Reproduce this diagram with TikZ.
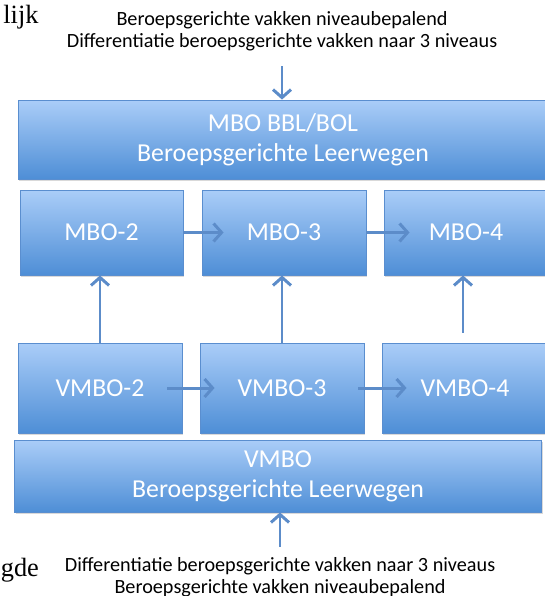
\documentclass[tikz,border=0pt]{standalone}
\usepackage{fontspec}
\setmainfont{Carlito}
\newfontfamily\fragfont{Liberation Serif}
\usetikzlibrary{arrows.meta,shadows,calc}

\definecolor{boxtop}{HTML}{AACDF8}
\definecolor{boxbot}{HTML}{4E8ED6}
\definecolor{boxedge}{HTML}{5A8ECF}
\definecolor{flowblue}{HTML}{5C8CC9}

\begin{document}
\begin{tikzpicture}[x=0.02cm, y=-0.02cm,
  box/.style={draw=boxedge, line width=0.5pt, top color=boxtop, bottom color=boxbot,
    text=white, align=center, inner sep=0pt, font=\fontsize{14.7}{17}\selectfont,
    drop shadow={opacity=0.3, shadow xshift=0.8pt, shadow yshift=-1.2pt}},
  flow/.style={draw=flowblue, line width=1.7pt, -{Straight Barb[length=1.6mm, width=3.6mm, line width=1.7pt]}},
  note/.style={align=center, inner sep=0pt, font=\fontsize{11.5}{12.6}\selectfont}]
\useasboundingbox (0,0) rectangle (545,596);

% cut-off words from the page
\node[anchor=base west, inner sep=0pt, font=\fragfont\fontsize{15}{18}\selectfont] (lijk) at (3,23) {lijk};
\node[anchor=base west, inner sep=0pt, font=\fragfont\fontsize{15}{18}\selectfont] (gde) at (0.5,576) {gde};

% top
\node[note] (toptext) at (282,31) {Beroepsgerichte vakken niveaubepalend\\Differentiatie beroepsgerichte vakken naar 3 niveaus};
\node[box, minimum width=530*0.02cm, minimum height=79*0.02cm] (mbo) at (283,139.5) {MBO BBL/BOL\\Beroepsgerichte Leerwegen};

% mbo row
\node[box, minimum width=163*0.02cm, minimum height=85*0.02cm] (mbo2) at (101.5,232.5) {MBO-2};
\node[box, minimum width=164*0.02cm, minimum height=85*0.02cm] (mbo3) at (284,232.5) {MBO-3};
\node[box, minimum width=164*0.02cm, minimum height=85*0.02cm] (mbo4) at (466,232.5) {MBO-4};

% vmbo row
\node[box, minimum width=164*0.02cm, minimum height=90*0.02cm] (vmbo2) at (100,388) {VMBO-2};
\node[box, minimum width=164*0.02cm, minimum height=90*0.02cm] (vmbo3) at (282,388) {VMBO-3};
\node[box, minimum width=166*0.02cm, minimum height=90*0.02cm] (vmbo4) at (465,388) {VMBO-4};

% bottom
\node[box, minimum width=527*0.02cm, minimum height=72*0.02cm] (vmbo) at (278,476) {VMBO\\Beroepsgerichte Leerwegen};
\node[note] (bottext) at (280,577) {Differentiatie beroepsgerichte vakken naar 3 niveaus\\Beroepsgerichte vakken niveaubepalend};

% arrows
\draw[flow, shorten <=3mm] (toptext.south) -- (toptext.south |- mbo.north);
\draw[flow] (mbo2.east) -- ($(mbo3.west)+(22,0)$);
\draw[flow] (mbo3.east) -- ($(mbo4.west)+(26,0)$);
\draw[flow] (vmbo2.north) -- (vmbo2.north |- mbo2.south);
\draw[flow] (vmbo3.north) -- (vmbo3.north |- mbo3.south);
\draw[flow, shorten <=2mm] ($(vmbo4.north)+(-2,0)$) -- ($(vmbo4.north |- mbo4.south)+(-2,0)$);
\draw[flow] ($(vmbo2.east)+(-15,0)$) -- ($(vmbo3.west)+(15,0)$);
\draw[flow] ($(vmbo3.east)+(-6,0)$) -- ($(vmbo4.west)+(25,0)$);
\draw[flow, shorten <=2mm] (bottext.north) -- (bottext.north |- vmbo.south);
\end{tikzpicture}
\end{document}
